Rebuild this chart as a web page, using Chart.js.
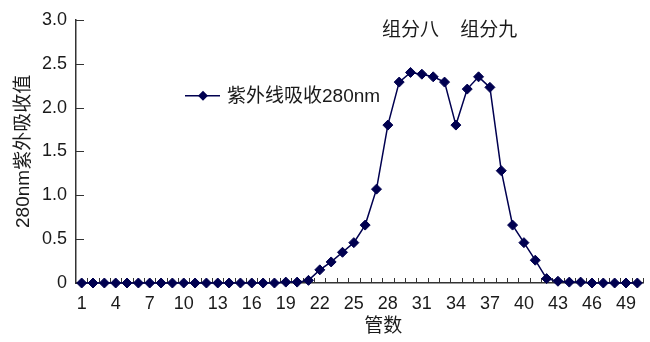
<!DOCTYPE html>
<html>
<head>
<meta charset="utf-8">
<script src="https://cdn.jsdelivr.net/npm/chart.js@4/dist/chart.umd.min.js"></script>
<style>
  html, body { margin: 0; padding: 0; background: #ffffff; }
  #wrap { width: 650px; height: 342px; position: relative; }
</style>
</head>
<body>
<div id="wrap"><canvas id="c" width="650" height="342"></canvas></div>
<script>
// Tube numbers 1..50
const tubes = Array.from({ length: 50 }, (_, i) => String(i + 1));

// UV absorbance at 280 nm for each tube
const absorbance280 = [
  0, 0, 0, 0, 0, 0, 0, 0, 0, 0,
  0, 0, 0, 0, 0, 0, 0, 0, 0.01, 0.01,
  0.03, 0.15, 0.24, 0.35, 0.46, 0.66, 1.07, 1.80, 2.29, 2.40,
  2.38, 2.35, 2.29, 1.80, 2.21, 2.35, 2.23, 1.28, 0.66, 0.46,
  0.26, 0.05, 0.02, 0.01, 0.01, 0, 0, 0, 0, 0
];

// Value axis ticks
const yTicks = [0, 0.5, 1.0, 1.5, 2.0, 2.5, 3.0];

// Fraction labels above the two peaks
const fractionLabels = ['组分八', '组分九'];

const seriesName = '紫外线吸收280nm';
const xTitle = '管数';
const yTitle = '280nm紫外吸收值';

const FONT = "'Liberation Sans', 'Noto Sans CJK SC', sans-serif";
const NAVY = '#000050';
const AXIS = '#333333';
const TEXT = '#1a1a1a';

// Inward tick marks on both axes (between categories on the x axis)
const innerTicks = {
  id: 'innerTicks',
  beforeDatasetsDraw(chart) {
    const { ctx, scales: { x, y } } = chart;
    ctx.save();
    ctx.strokeStyle = AXIS;
    ctx.lineWidth = 1;
    const n = tubes.length;
    const step = (x.getPixelForValue(n - 1) - x.getPixelForValue(0)) / (n - 1);
    for (let i = 0; i < n; i++) {
      const px = Math.round(x.getPixelForValue(i) + step / 2) + 0.5;
      ctx.beginPath();
      ctx.moveTo(px, y.bottom);
      ctx.lineTo(px, y.bottom - 5);
      ctx.stroke();
    }
    yTicks.forEach(v => {
      const py = Math.round(y.getPixelForValue(v)) + 0.5;
      ctx.beginPath();
      ctx.moveTo(x.left, py);
      ctx.lineTo(x.left + 8, py);
      ctx.stroke();
    });
    ctx.restore();
  }
};

// Series key, fraction labels and x-axis title
const overlayText = {
  id: 'overlayText',
  afterDraw(chart) {
    const { ctx, chartArea, scales: { x, y } } = chart;
    ctx.save();
    // series key
    const ly = chartArea.top + 76;
    const lx = chartArea.left + 109;
    ctx.strokeStyle = NAVY;
    ctx.lineWidth = 1.5;
    ctx.beginPath();
    ctx.moveTo(lx, ly);
    ctx.lineTo(lx + 35, ly);
    ctx.stroke();
    ctx.fillStyle = NAVY;
    ctx.beginPath();
    ctx.moveTo(lx + 18, ly - 5);
    ctx.lineTo(lx + 23, ly);
    ctx.lineTo(lx + 18, ly + 5);
    ctx.lineTo(lx + 13, ly);
    ctx.closePath();
    ctx.fill();
    ctx.fillStyle = TEXT;
    ctx.font = '19px ' + FONT;
    ctx.textAlign = 'left';
    ctx.textBaseline = 'middle';
    ctx.fillText(seriesName, lx + 42, ly + 1);

    // fraction labels
    ctx.font = '19px ' + FONT;
    ctx.textAlign = 'center';
    const ty = y.getPixelForValue(2.88);
    ctx.fillText(fractionLabels[0], x.getPixelForValue(29.0), ty);
    ctx.fillText(fractionLabels[1], x.getPixelForValue(35.9), ty);

    // x-axis title
    ctx.font = '19px ' + FONT;
    ctx.fillText(xTitle, x.getPixelForValue(26.6), chart.height - 15);
    ctx.restore();
  }
};

new Chart(document.getElementById('c'), {
  type: 'line',
  data: {
    labels: tubes,
    datasets: [{
      label: seriesName,
      data: absorbance280,
      borderColor: NAVY,
      backgroundColor: NAVY,
      borderWidth: 1.5,
      pointStyle: 'rectRot',
      pointRadius: 5,
      pointHoverRadius: 5,
      pointBackgroundColor: NAVY,
      pointBorderColor: NAVY,
      pointBorderWidth: 1,
      tension: 0,
      clip: false
    }]
  },
  options: {
    responsive: false,
    animation: false,
    events: [],
    layout: { padding: { top: 16, right: 7, left: 0, bottom: 0 } },
    plugins: {
      legend: { display: false },
      tooltip: { enabled: false },
      title: { display: false }
    },
    scales: {
      x: {
        type: 'category',
        offset: true,
        grid: { display: false, drawTicks: false },
        border: { display: true, color: AXIS, width: 1.5 },
        ticks: {
          autoSkip: false,
          maxRotation: 0,
          minRotation: 0,
          padding: 10,
          color: TEXT,
          font: { family: FONT, size: 18 },
          callback: (v, i) => (i % 3 === 0 ? tubes[i] : '')
        },
        title: { display: false },
        afterFit: s => { s.height = 59; }
      },
      y: {
        min: 0,
        max: 3,
        afterBuildTicks: s => { s.ticks = yTicks.map(v => ({ value: v })); },
        grid: { display: false, drawTicks: false },
        border: { display: true, color: AXIS, width: 1.5 },
        ticks: {
          padding: 9,
          color: TEXT,
          font: { family: FONT, size: 18 },
          callback: v => (v === 0 ? '0' : v.toFixed(1))
        },
        title: {
          display: true,
          text: yTitle,
          color: TEXT,
          font: { family: FONT, size: 19 },
          padding: { top: 12, bottom: 0 }
        },
        afterFit: s => { s.width = 76; }
      }
    }
  },
  plugins: [innerTicks, overlayText]
});
</script>
</body>
</html>
